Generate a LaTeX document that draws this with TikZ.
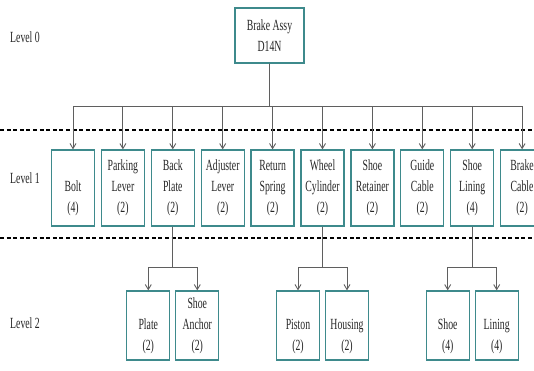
\documentclass[tikz,border=0pt]{standalone}
\usepackage{fontspec}
\setmainfont{Liberation Serif}[FakeStretch=0.63]
\usetikzlibrary{arrows.meta}
\definecolor{boxteal}{RGB}{62,138,140}
\definecolor{linkgray}{RGB}{95,95,95}

\begin{document}
\begin{tikzpicture}[x=1pt, y=-1pt, >={Straight Barb[length=5pt,width=6pt]},
    part/.style={draw=boxteal, line width=1.3pt, fill=white, align=center,
        inner sep=0pt, minimum width=43pt, text=black!85,
        font=\fontsize{15.5}{21}\selectfont},
    link/.style={linkgray, line width=0.9pt},
    levelline/.style={line width=1.6pt, dash pattern=on 4pt off 2.6pt},
    levellabel/.style={text=black!85, font=\fontsize{15.5}{21}\selectfont}]
        \useasboundingbox (0,0) rectangle (534,371);

        % Separatori
        \draw[levelline] (0,130) -- (534,130);
        \draw[levelline] (0,238) -- (534,238);
        \node[levellabel] (lev0) at (25,37) {Level 0};
        \node[levellabel] (lev1) at (25,178) {Level 1};
        \node[levellabel] (lev2) at (25,323) {Level 2};

        % Level 0
        \node[part, minimum width=69pt, minimum height=55pt] (assy) at (269.5,35.5) {Brake Assy\\D14N};

        % Level 1
        \foreach \name/\txt [count=\i from 0] in {bolt/{\vphantom{Sh}\\Bolt\\(4)}, lever/{Parking\\Lever\\(2)},
            back/{Back\\Plate\\(2)}, adjust/{Adjuster\\Lever\\(2)}, spring/{Return\\Spring\\(2)},
            wheel/{Wheel\\Cylinder\\(2)}, retain/{Shoe\\Retainer\\(2)}, guide/{Guide\\Cable\\(2)},
            lining/{Shoe\\Lining\\(4)}, cable/{Brake\\Cable\\(2)}}
        {
            \node[part, minimum height=76pt] (\name) at (73+49.9*\i,188) {\txt};
            \draw[link,->] (assy.south) -- ++(0,43) -| (\name.north);
        }

        % Level 2
        \node[part, minimum height=69pt] (plate) at (148.3,325.5) {\vphantom{Sh}\\Plate\\(2)};
        \node[part, minimum height=69pt] (anchor) at (197.3,325.5) {Shoe\\Anchor\\(2)};
        \node[part, minimum height=69pt] (piston) at (298,325.5) {\vphantom{Sh}\\Piston\\(2)};
        \node[part, minimum height=69pt] (housing) at (347,325.5) {\vphantom{Sh}\\Housing\\(2)};
        \node[part, minimum height=69pt] (shoe) at (447.7,325.5) {\vphantom{Sh}\\Shoe\\(4)};
        \node[part, minimum height=69pt] (lin) at (496.7,325.5) {\vphantom{Sh}\\Lining\\(4)};

        \foreach \up/\down in {back/plate, back/anchor, wheel/piston, wheel/housing, lining/shoe, lining/lin}
            \draw[link,->] (\up.south) -- ++(0,41) -| (\down.north);
\end{tikzpicture}
\end{document}
